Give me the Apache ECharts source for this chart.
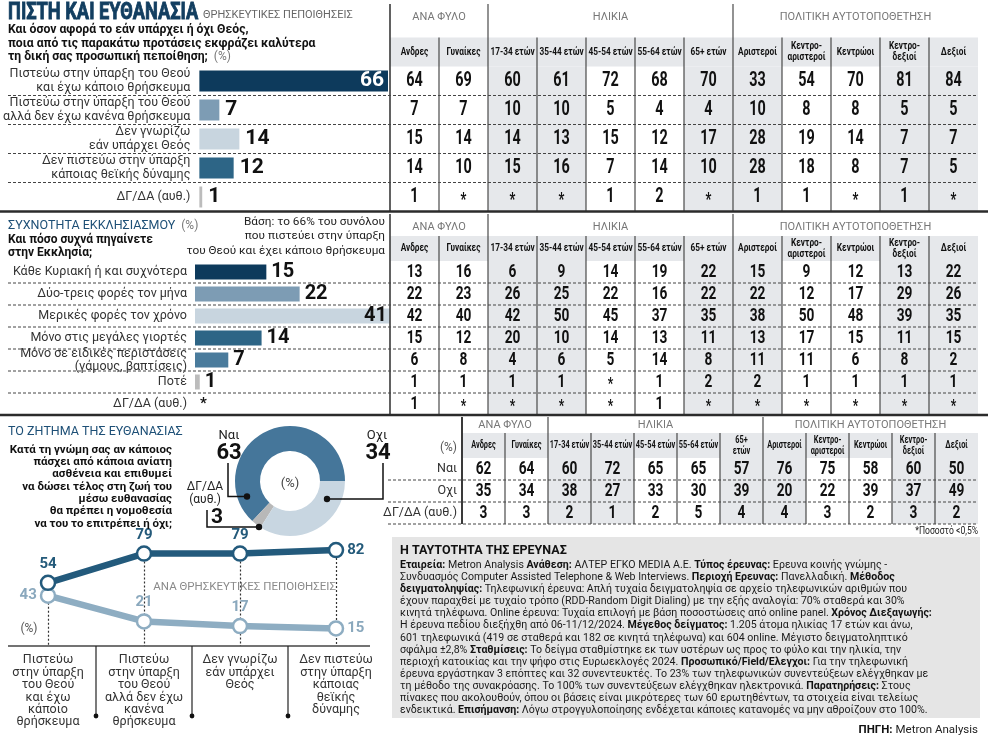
<!DOCTYPE html>
<html><head><meta charset="utf-8">
<script src="https://cdn.jsdelivr.net/npm/echarts@6/dist/echarts.min.js"></script>
<style>html,body{margin:0;padding:0;background:#fff}#c{width:988px;height:742px}</style>
</head><body><div id="c"></div>
<script>
// ---------------- DATA ----------------
const beliefCategories = ['Πιστεύω στην ύπαρξη του Θεού\nκαι έχω κάποιο θρήσκευμα','Πιστεύω στην ύπαρξη του Θεού\nαλλά δεν έχω κανένα θρήσκευμα','Δεν γνωρίζω\nεάν υπάρχει Θεός','Δεν πιστεύω στην ύπαρξη\nκάποιας θεϊκής δύναμης','ΔΓ/ΔΑ (αυθ.)'];
const beliefValues = [66, 7, 14, 12, 1];
const groupColumns = ['Ανδρες','Γυναίκες','17-34 ετών','35-44 ετών','45-54 ετών','55-64 ετών','65+ ετών','Αριστεροί','Κεντρο-\nαριστεροί','Κεντρώοι','Κεντρο-\nδεξιοί','Δεξιοί'];
const groupHeaders = ['ΑΝΑ ΦΥΛΟ','ΗΛΙΚΙΑ','ΠΟΛΙΤΙΚΗ ΑΥΤΟΤΟΠΟΘΕΤΗΣΗ'];
const beliefTable = [
  [64,69,60,61,72,68,70,33,54,70,81,84],
  [7,7,10,10,5,4,4,10,8,8,5,5],
  [15,14,14,13,15,12,17,28,19,14,7,7],
  [14,10,15,16,7,14,10,28,18,8,7,5],
  [1,'*','*','*',1,2,'*',1,1,'*',1,'*']
];
const churchCategories = ['Κάθε Κυριακή ή και συχνότερα','Δύο-τρεις φορές τον μήνα','Μερικές φορές τον χρόνο','Μόνο στις μεγάλες γιορτές','Μόνο σε ειδικές περιστάσεις\n(γάμους, βαπτίσεις)','Ποτέ','ΔΓ/ΔΑ (αυθ.)'];
const churchValues = [15, 22, 41, 14, 7, 1, '*'];
const churchTable = [
  [13,16,6,9,14,19,22,15,9,12,13,22],
  [22,23,26,25,22,16,22,22,12,17,29,26],
  [42,40,42,50,45,37,35,38,50,48,39,35],
  [15,12,20,10,14,13,11,13,17,15,11,15],
  [6,8,4,6,5,14,8,11,11,6,8,2],
  [1,1,1,1,'*',1,2,2,1,1,1,1],
  [1,'*','*','*','*',1,'*','*','*','*','*','*']
];
const euthCategories = ['Ναι','Οχι','ΔΓ/ΔΑ (αυθ.)'];
const euthValues = [63, 34, 3];
const euthColumns = ['Ανδρες','Γυναίκες','17-34 ετών','35-44 ετών','45-54 ετών','55-64 ετών','65+\nετών','Αριστεροί','Κεντρο-\nαριστεροί','Κεντρώοι','Κεντρο-\nδεξιοί','Δεξιοί'];
const euthTable = [
  [62,64,60,72,65,65,57,76,75,58,60,50],
  [35,34,38,27,33,30,39,20,22,39,37,49],
  [3,3,2,1,2,5,4,4,3,2,3,2]
];
const beliefShortCategories = ['Πιστεύω\nστην ύπαρξη\nτου Θεού\nκαι έχω\nκάποιο\nθρήσκευμα','Πιστεύω\nστην ύπαρξη\nτου Θεού\nαλλά δεν έχω\nκανένα\nθρήσκευμα','Δεν γνωρίζω\nεάν υπάρχει\nΘεός','Δεν πιστεύω\nστην ύπαρξη\nκάποιας\nθεϊκής\nδύναμης'];
const yesByBelief = [54, 79, 79, 82];
const noByBelief = [43, 21, 17, 15];
const researchLines = [
  '{b|Εταιρεία:} Metron Analysis {b|Ανάθεση:} ΑΛΤΕΡ ΕΓΚΟ MEDIA A.E. {b|Τύπος έρευνας:} Ερευνα κοινής γνώμης -',
  'Συνδυασμός Computer Assisted Telephone & Web Interviews. {b|Περιοχή Ερευνας:} Πανελλαδική. {b|Μέθοδος}',
  '{b|δειγματοληψίας:} Τηλεφωνική έρευνα: Απλή τυχαία δειγματοληψία σε αρχείο τηλεφωνικών αριθμών που',
  'έχουν παραχθεί με τυχαίο τρόπο (RDD-Random Digit Dialing) με την εξής αναλογία: 70% σταθερά και 30%',
  'κινητά τηλέφωνα. Online έρευνα: Τυχαία επιλογή με βάση ποσοστώσεις από online panel. {b|Χρόνος Διεξαγωγής:}',
  'Η έρευνα πεδίου διεξήχθη από 06-11/12/2024. {b|Μέγεθος δείγματος:} 1.205 άτομα ηλικίας 17 ετών και άνω,',
  '601 τηλεφωνικά (419 σε σταθερά και 182 σε κινητά τηλέφωνα) και 604 online. Μέγιστο δειγματοληπτικό',
  'σφάλμα ±2,8% {b|Σταθμίσεις:} Το δείγμα σταθμίστηκε εκ των υστέρων ως προς το φύλο και την ηλικία, την',
  'περιοχή κατοικίας και την ψήφο στις Ευρωεκλογές 2024. {b|Προσωπικό/Field/Ελεγχοι:} Για την τηλεφωνική',
  'έρευνα εργάστηκαν 3 επόπτες και 32 συνεντευκτές. Το 23% των τηλεφωνικών συνεντεύξεων ελέγχθηκαν με',
  'τη μέθοδο της συνακρόασης. Το 100% των συνεντεύξεων ελέγχθηκαν ηλεκτρονικά. {b|Παρατηρήσεις:} Στους',
  'πίνακες που ακολουθούν, όπου οι βάσεις είναι μικρότερες των 60 ερωτηθέντων, τα στοιχεία είναι τελείως',
  'ενδεικτικά. {b|Επισήμανση:} Λόγω στρογγυλοποίησης ενδέχεται κάποιες κατανομές να μην αθροίζουν στο 100%.'
];

// ---------------- STYLE / LAYOUT ----------------
const FONT = "Roboto, 'Noto Sans', 'DejaVu Sans', sans-serif";
const NAVY = '#123e60';
const beliefColors = ['#0d3a5c','#7d9cb4','#c8d5df','#2d6586','#bcbcbc'];
const churchColors = ['#0d3a5c','#7d9cb4','#c8d5df','#2d6586','#4a7b9c','#bcbcbc','#bcbcbc'];
const pieColors = {'Ναι':'#45769a','Οχι':'#c8d6e1','ΔΓ/ΔΑ (αυθ.)':'#b8b8b8'};
const STRIPE = '#e6e8eb';
const DARK_LINE = '#235a7c', LIGHT_LINE = '#8eadc2';

const L1 = {barLeft:196, barW:192, top:66.5, h:145, tabLeft:390, tabW:588, headTop:37.5};
const L2 = {barLeft:195, barW:195, top:261, h:154, tabLeft:390, tabW:588, headTop:236};
const L3 = {tabLeft:462, tabW:516, top:458, h:66, headTop:433};
const LL = {left:0, width:384, top:529, height:117};

function cells(table){ const out=[]; table.forEach((row,r)=>row.forEach((v,c)=>out.push([c,r,v]))); return out; }

const G = [];
function txt(x,y,text,o){ o=o||{}; G.push({type:'text', x:x, y:y, silent:true, z:o.z||20, scaleX:o.sx||1,
  style:{text:text, fill:o.fill||'#222', fontFamily:o.ff||FONT, fontSize:o.fs||12, fontWeight:o.fw||'normal',
    stroke:o.stroke||null, lineWidth:o.slw||0,
    align:o.align||'left', verticalAlign:'middle', textAlign:o.align||'left', textVerticalAlign:'middle', lineHeight:o.lh, rich:o.rich}}); }
function ln(x1,y1,x2,y2,o){ o=o||{}; G.push({type:'line', silent:true, z:o.z||30, shape:{x1:x1,y1:y1,x2:x2,y2:y2},
  style:{stroke:o.stroke||'#333', lineWidth:o.w||1, lineDash:o.dash||null}}); }
function rect(x,y,w,h,fill,z){ G.push({type:'rect', silent:true, z:(z===undefined?-5:z), shape:{x:x,y:y,width:w,height:h}, style:{fill:fill}}); }
function dot(x,y,r,fill){ G.push({type:'circle', silent:true, z:40, shape:{cx:x,cy:y,r:r}, style:{fill:fill||'#111'}}); }
function poly(pts,o){ o=o||{}; G.push({type:'polyline', silent:true, z:40, shape:{points:pts}, style:{stroke:o.stroke||'#111', lineWidth:o.w||1.5, fill:null}}); }

// ---- header texts
txt(8,13,'ΠΙΣΤΗ ΚΑΙ ΕΥΘΑΝΑΣΙΑ',{fs:24,fw:'bold',fill:NAVY,sx:0.76,stroke:NAVY,slw:0.9});
txt(203,15,'ΘΡΗΣΚΕΥΤΙΚΕΣ ΠΕΠΟΙΘΗΣΕΙΣ',{fs:11,fill:'#666'});
txt(8,30,'Και όσον αφορά το εάν υπάρχει ή όχι Θεός,',{fs:12.2,fw:'bold',fill:'#111'});
txt(8,43.5,'ποια από τις παρακάτω προτάσεις εκφράζει καλύτερα',{fs:12.2,fw:'bold',fill:'#111'});
txt(8,57,'{b|τη δική σας προσωπική πεποίθηση;}  {g|(%)}',{fs:12.2,rich:{b:{fontFamily:FONT,fontSize:12.2,fontWeight:'bold',fill:'#111',color:'#111'},g:{fontFamily:FONT,fontSize:12,fill:'#777',color:'#777'}}});

// ---- table backgrounds & lines (section 1 & 2)
function tableDeco(L, rows, sectionTop, sectionBottom, rowH){
  const cw = L.tabW/12;
  rect(L.tabLeft, L.headTop, L.tabW, L.top-L.headTop, STRIPE);
  for(let i=0;i<12;i++){
    const x = L.tabLeft + cw*i;
    const tall = (i===0||i===2||i===7);
    ln(x, tall?sectionTop:L.headTop, x, sectionBottom, {w: i===0?1.6:1.1, stroke:'#3a3a3a'});
  }
  [[0,2],[2,7],[7,12]].forEach((s,k)=>txt(L.tabLeft+cw*(s[0]+s[1])/2, sectionTop+13, groupHeaders[k], {fs:11,fill:'#777',align:'center'}));
  for(let r=1;r<rows;r++){ const y=L.top+rowH*r; ln(8,y,978,y,{dash:[3,2],w:1,stroke:'#444'}); }
}
tableDeco(L1,5,4,211.5,L1.h/5);
tableDeco(L2,7,214,415,L2.h/7);
ln(0,211.5,988,211.5,{w:2.6,stroke:'#2b2b2b'});
ln(0,415,988,415,{w:2.6,stroke:'#2b2b2b'});

// ---- section 2 texts
txt(8,226,'{t|ΣΥΧΝΟΤΗΤΑ ΕΚΚΛΗΣΙΑΣΜΟΥ}  {g|(%)}',{rich:{t:{fontFamily:FONT,fontSize:12.5,color:'#1d4f76',fill:'#1d4f76'},g:{fontFamily:FONT,fontSize:12,color:'#777',fill:'#777'}}});
txt(8,240,'Και πόσο συχνά πηγαίνετε',{fs:12,fw:'bold',fill:'#111'});
txt(8,253,'στην Εκκλησία;',{fs:12,fw:'bold',fill:'#111'});
txt(385,222,'Βάση: το 66% του συνόλου',{fs:11.8,align:'right',fill:'#222'});
txt(385,236.5,'που πιστεύει στην ύπαρξη',{fs:11.8,align:'right',fill:'#222'});
txt(385,251,'του Θεού και έχει κάποιο θρήσκευμα',{fs:11.8,align:'right',fill:'#222'});

// ---- section 3 (euthanasia)
txt(8,432,'ΤΟ ΖΗΤΗΜΑ ΤΗΣ ΕΥΘΑΝΑΣΙΑΣ',{fs:12.5,fill:'#1d4f76'});
['Κατά τη γνώμη σας αν κάποιος','πάσχει από κάποια ανίατη','ασθένεια και επιθυμεί','να δώσει τέλος στη ζωή του','μέσω ευθανασίας','θα πρέπει η νομοθεσία','να του το επιτρέπει ή όχι;']
  .forEach((s,i)=>txt(172,450+12.3*i,s,{fs:11.5,fw:'bold',fill:'#111',align:'right'}));
txt(290,484,'(%)',{fs:13,fill:'#444',align:'center'});
// donut annotations
txt(229,436,euthCategories[0],{fs:13,fill:'#222',align:'center'});
txt(229,453,String(euthValues[0]),{fs:22,fw:'bold',fill:'#111',align:'center'});
poly([[228,463],[228,496.5],[247,496.5]]); dot(247,496.5,3.2);
txt(377,436,euthCategories[1],{fs:13,fill:'#222',align:'center'});
txt(378,453,String(euthValues[1]),{fs:22,fw:'bold',fill:'#111',align:'center'});
poly([[383,463],[383,499],[327,499]]); dot(327,499,3.2);
txt(205,487,'ΔΓ/ΔΑ',{fs:12,fill:'#222',align:'center'});
txt(205,500,'(αυθ.)',{fs:12,fill:'#222',align:'center'});
txt(211,518,String(euthValues[2]),{fs:21,fw:'bold',fill:'#111'});
poly([[207,510],[207,527],[259,527]]); dot(259,527,3.2);
// table 3 deco
(function(){
  const cw=L3.tabW/12;
  rect(L3.tabLeft,L3.headTop,L3.tabW,L3.top-L3.headTop,STRIPE);
  for(let i=0;i<12;i++){ const x=L3.tabLeft+cw*i; const tall=(i===0||i===2||i===7);
    ln(x, tall?417:L3.headTop, x, L3.top+L3.h, {w:i===0?2:1.1, stroke:'#3a3a3a'}); }
  [[0,2],[2,7],[7,12]].forEach((s,k)=>txt(L3.tabLeft+cw*(s[0]+s[1])/2,425,groupHeaders[k],{fs:11,fill:'#777',align:'center'}));
  for(let r=1;r<=3;r++){ const y=L3.top+22*r; ln(388,y,978,y,{dash:[3,2],stroke:'#444'}); }
  txt(457,448,'(%)',{fs:12,fill:'#555',align:'right'});
  G.push({type:'text',x:978,y:531,silent:true,z:20,scaleX:0.78,style:{text:'*Ποσοστό <0,5%',fill:'#222',fontFamily:FONT,fontSize:11,align:'right',verticalAlign:'middle',textAlign:'right',textVerticalAlign:'middle'}});
})();

// ---- line chart deco
ln(8,646,370,646,{w:1.3,stroke:'#444'});
[1,2,3].forEach(i=>{ const x=LL.left+LL.width/4*i; ln(x,646,x,716,{w:1.2,stroke:'#222'}); dot(x,716,2.4); });
txt(29,629,'(%)',{fs:12,fill:'#555',align:'center'});
txt(336,587,'ΑΝΑ ΘΡΗΣΚΕΥΤΙΚΕΣ ΠΕΠΟΙΘΗΣΕΙΣ',{fs:11.5,fill:'#8a8a8a',align:'right'});

// ---- research box
rect(392,537,588,181,'#e5e5e5',-5);
txt(400,551,'Η ΤΑΥΤΟΤΗΤΑ ΤΗΣ ΕΡΕΥΝΑΣ',{fs:12.5,fw:'bold',fill:'#111'});
const richRes = {n:{fontFamily:FONT,fontSize:10.6,color:'#1a1a1a',fill:'#1a1a1a'},b:{fontFamily:FONT,fontSize:10.6,fontWeight:'bold',color:'#111',fill:'#111'}};
researchLines.forEach((s,i)=>{
  const t = s.split(/(\{b\|[^}]*\})/).map(p=>p.startsWith('{b|')?p:(p?'{n|'+p+'}':'')).join('');
  txt(400,565+12.15*i,t,{rich:richRes});
});
txt(978,730,'{b|ΠΗΓΗ:} {n|Metron Analysis}',{align:'right',rich:{b:{fontFamily:FONT,fontSize:11.5,fontWeight:'bold',color:'#111',fill:'#111'},n:{fontFamily:FONT,fontSize:11.5,color:'#222',fill:'#222'}}});

// ---------------- SERIES DATA ----------------
const beliefBarData = beliefValues.map((v,i)=>Object.assign({value:v,itemStyle:{color:beliefColors[i]}},
  v===Math.max(...beliefValues)?{label:{position:'insideRight',color:'#fff',distance:4}}:{}));
const numericChurch = churchValues.filter(v=>v!=='*');
const churchBarData = churchValues.map((v,i)=> v==='*'
  ? {value:0,itemStyle:{color:churchColors[i]},label:{formatter:'*',fontSize:15}}
  : Object.assign({value:v,itemStyle:{color:churchColors[i]}}, v===Math.max(...numericChurch)?{label:{position:'insideRight',distance:3}}:{}));
const yesPos=['top','top','top','right'], noPos=['left','top','top','right'];

// table cells: custom series placed through the category axes, condensed with scaleX
function cellSeries(xi, yi, table, fs, sx){
  const data = cells(table);
  return {type:'custom', xAxisIndex:xi, yAxisIndex:yi, silent:true, data:data.map(d=>[d[0],d[1]]), encode:{x:0,y:1},
    renderItem:(params, api)=>{
      const p = api.coord([api.value(0), api.value(1)]);
      const t = String(data[params.dataIndex][2]);
      const star = t==='*';
      return {type:'text', x:p[0], y:p[1]+(star?3:0), scaleX:sx,
        style:{text:t, fill:'#111', fontFamily:FONT, fontWeight:'bold', fontSize:star?fs-2:fs,
          align:'center', verticalAlign:'middle', textAlign:'center', textVerticalAlign:'middle'}};
    }};
}
// column headers: custom series along the column axis, drawn in the header band above the grid
function headerSeries(xi, yi, cols, margin, sx){
  return {type:'custom', xAxisIndex:xi, yAxisIndex:yi, silent:true, data:cols.map((c,i)=>[i,0]), encode:{x:0,y:1},
    renderItem:(params, api)=>{
      const p = api.coord([api.value(0), 0]);
      return {type:'text', x:p[0], y:params.coordSys.y - margin, scaleX:sx,
        style:{text:cols[params.dataIndex], fill:'#111', fontFamily:FONT, fontWeight:'bold', fontSize:11.5, lineHeight:11,
          align:'center', verticalAlign:'middle', textAlign:'center', textVerticalAlign:'middle'}};
    }};
}
const tableX = (grid,cats)=>({type:'category',gridIndex:grid,data:cats,position:'top',axisLine:{show:false},axisTick:{show:false},
  axisLabel:{show:false},splitLine:{show:false},splitArea:{show:true,areaStyle:{color:['rgba(255,255,255,0)',STRIPE]}}});
const hiddenY = (grid,cats)=>({type:'category',gridIndex:grid,data:cats,inverse:true,show:false});

const option = {
  animation:false,
  backgroundColor:'#fff',
  grid:[
    {left:L1.barLeft,top:L1.top,width:L1.barW,height:L1.h},
    {left:L1.tabLeft,top:L1.top,width:L1.tabW,height:L1.h},
    {left:L2.barLeft,top:L2.top,width:L2.barW,height:L2.h},
    {left:L2.tabLeft,top:L2.top,width:L2.tabW,height:L2.h},
    {left:L3.tabLeft,top:L3.top,width:L3.tabW,height:L3.h},
    {left:LL.left,top:LL.top,width:LL.width,height:LL.height}
  ],
  xAxis:[
    {type:'value',gridIndex:0,min:0,max:Math.max(...beliefValues),show:false},
    tableX(1,groupColumns),
    {type:'value',gridIndex:2,min:0,max:Math.max(...numericChurch),show:false},
    tableX(3,groupColumns),
    tableX(4,euthColumns),
    {type:'category',gridIndex:5,data:beliefShortCategories,axisLine:{show:false},axisTick:{show:false},
      axisLabel:{interval:0,fontFamily:FONT,fontSize:12.5,lineHeight:12.4,color:'#333',margin:8,verticalAlign:'top'}}
  ],
  yAxis:[
    {type:'category',gridIndex:0,data:beliefCategories,inverse:true,axisLine:{show:false},axisTick:{show:false},
      axisLabel:{interval:0,fontFamily:FONT,fontSize:12.5,lineHeight:14,color:'#333',margin:9}},
    hiddenY(1,beliefCategories),
    {type:'category',gridIndex:2,data:churchCategories,inverse:true,axisLine:{show:false},axisTick:{show:false},
      axisLabel:{interval:0,fontFamily:FONT,fontSize:12.5,lineHeight:13,color:'#333',margin:8}},
    hiddenY(3,churchCategories),
    {type:'category',gridIndex:4,data:euthCategories,inverse:true,axisLine:{show:false},axisTick:{show:false},
      axisLabel:{interval:0,fontFamily:FONT,fontSize:12.5,color:'#333',margin:5}},
    {type:'value',gridIndex:5,min:0,max:100,show:false}
  ],
  series:[
    {type:'bar',xAxisIndex:0,yAxisIndex:0,data:beliefBarData,barWidth:21,silent:true,
      label:{show:true,position:'right',distance:6,fontFamily:FONT,fontWeight:'bold',fontSize:21,color:'#111'}},
    cellSeries(1,1,beliefTable,20,0.72),
    headerSeries(1,1,groupColumns,14.5,0.72),
    {type:'bar',xAxisIndex:2,yAxisIndex:2,data:churchBarData,barWidth:15,silent:true,
      label:{show:true,position:'right',distance:5,fontFamily:FONT,fontWeight:'bold',fontSize:20,color:'#111'}},
    cellSeries(3,3,churchTable,18.5,0.74),
    headerSeries(3,3,groupColumns,12.5,0.72),
    cellSeries(4,4,euthTable,18.5,0.74),
    headerSeries(4,4,euthColumns,12.5,0.64),
    {type:'pie',center:[290,481],radius:[30,55],startAngle:0,clockwise:false,silent:true,label:{show:false},labelLine:{show:false},
      data:[0,2,1].map(i=>({name:euthCategories[i],value:euthValues[i],itemStyle:{color:pieColors[euthCategories[i]]}}))},
    {type:'line',xAxisIndex:5,yAxisIndex:5,name:'Οχι',data:noByBelief.map((v,i)=>({value:v,label:{position:noPos[i]}})),
      symbol:'circle',symbolSize:14,lineStyle:{color:LIGHT_LINE,width:6.5},itemStyle:{color:'#fff',borderColor:LIGHT_LINE,borderWidth:2.5},silent:true,
      label:{show:true,distance:3,fontFamily:FONT,fontWeight:'bold',fontSize:15,color:'#8aa8bd'}},
    {type:'line',xAxisIndex:5,yAxisIndex:5,name:'Ναι',data:yesByBelief.map((v,i)=>({value:v,label:{position:yesPos[i]}})),
      symbol:'circle',symbolSize:14,lineStyle:{color:DARK_LINE,width:6.5},itemStyle:{color:'#fff',borderColor:DARK_LINE,borderWidth:2.5},silent:true,z:3,
      label:{show:true,distance:3,fontFamily:FONT,fontWeight:'bold',fontSize:15,color:'#245a7a'},
      markLine:{silent:true,symbol:['none','none'],label:{show:false},lineStyle:{color:'#333',width:1.2,type:[2,2]},z:1,
        data:yesByBelief.map((v,i)=>[{coord:[i,v]},{coord:[i,0]}])}}
  ],
  graphic:{elements:G}
};
const chart = echarts.init(document.getElementById('c'),null,{renderer:'canvas',width:988,height:742});
chart.setOption(option);
</script>
</body></html>
